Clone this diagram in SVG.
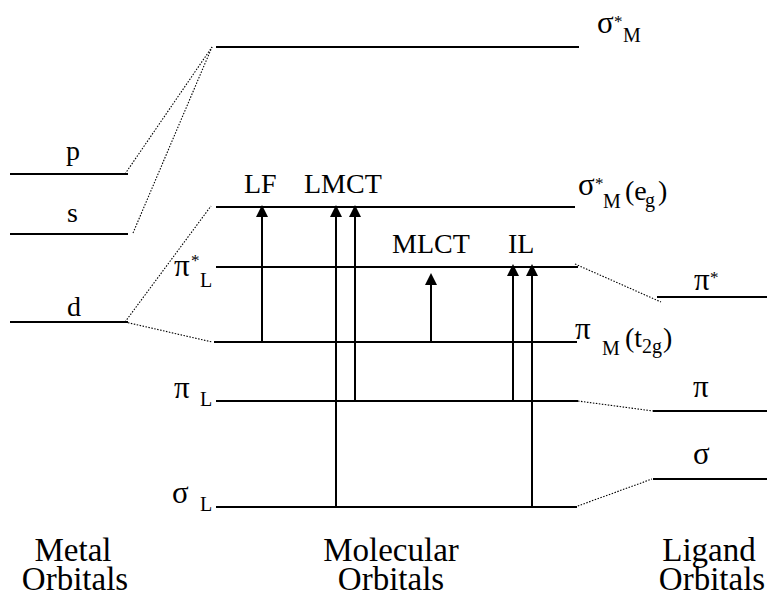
<svg xmlns="http://www.w3.org/2000/svg" width="767" height="596" viewBox="0 0 767 596">
<rect width="767" height="596" fill="#fff"/>

<g stroke="#000" stroke-width="2" fill="none">
<g id="metal-p"><line x1="10" y1="174" x2="128" y2="174"/></g>
<g id="metal-s"><line x1="10" y1="234" x2="128" y2="234"/></g>
<g id="metal-d"><line x1="10" y1="322" x2="128" y2="322"/></g>
<g id="mo-sigma-star-m"><line x1="216" y1="47" x2="579" y2="47"/></g>
<g id="mo-sigma-star-m-eg"><line x1="216" y1="207" x2="575" y2="207"/></g>
<g id="mo-pi-star-l"><line x1="216" y1="267" x2="578" y2="267"/></g>
<g id="mo-pi-m-t2g"><line x1="214" y1="342" x2="577" y2="342"/></g>
<g id="mo-pi-l"><line x1="216" y1="401" x2="578" y2="401"/></g>
<g id="mo-sigma-l"><line x1="216" y1="507" x2="577" y2="507"/></g>
<g id="lig-pi-star"><line x1="657" y1="297" x2="767" y2="297"/></g>
<g id="lig-pi"><line x1="653" y1="411" x2="767" y2="411"/></g>
<g id="lig-sigma"><line x1="653" y1="479" x2="767" y2="479"/></g>
</g>

<text style="font-family:'Liberation Serif'" font-family="Liberation Serif" font-size="28" x="66" y="160">p</text>
<text style="font-family:'Liberation Serif'" font-family="Liberation Serif" font-size="28" x="67" y="222">s</text>
<text style="font-family:'Liberation Serif'" font-family="Liberation Serif" font-size="28" x="67" y="316">d</text>
<text style="font-family:'Liberation Serif'" font-family="Liberation Serif" font-size="28"><tspan font-size="31" x="597" y="33">σ</tspan><tspan font-size="17" x="614" y="27">*</tspan><tspan font-size="20" x="623" y="42">M</tspan></text>
<text style="font-family:'Liberation Serif'" font-family="Liberation Serif" font-size="28"><tspan font-size="31" x="578" y="195">σ</tspan><tspan font-size="17" x="595" y="189">*</tspan><tspan font-size="20" x="603" y="208">M</tspan><tspan x="625" y="200">(e</tspan><tspan font-size="20" x="645" y="207">g</tspan><tspan x="658" y="200">)</tspan></text>
<text style="font-family:'Liberation Serif'" font-family="Liberation Serif" font-size="28"><tspan font-size="31" x="174" y="276">π</tspan><tspan font-size="17" x="191" y="266">*</tspan><tspan font-size="20" x="200" y="287">L</tspan></text>
<text style="font-family:'Liberation Serif'" font-family="Liberation Serif" font-size="28"><tspan font-size="31" x="575" y="339">π</tspan><tspan font-size="20" x="602" y="355">M</tspan><tspan x="625" y="347">(t</tspan><tspan font-size="20" x="642" y="353">2g</tspan><tspan x="663" y="347">)</tspan></text>
<text style="font-family:'Liberation Serif'" font-family="Liberation Serif" font-size="28"><tspan font-size="31" x="174" y="398">π</tspan><tspan font-size="20" x="200" y="406">L</tspan></text>
<text style="font-family:'Liberation Serif'" font-family="Liberation Serif" font-size="28"><tspan font-size="31" x="172" y="503">σ</tspan><tspan font-size="20" x="200" y="511">L</tspan></text>
<text style="font-family:'Liberation Serif'" font-family="Liberation Serif" font-size="28"><tspan font-size="31" x="694" y="290">π</tspan><tspan font-size="17" x="710" y="283">*</tspan></text>
<text style="font-family:'Liberation Serif'" font-family="Liberation Serif" font-size="31" x="693" y="397">π</text>
<text style="font-family:'Liberation Serif'" font-family="Liberation Serif" font-size="31" x="693" y="464">σ</text>

<g id="connectors">
<g fill="none" stroke="#000" stroke-width="1.1" stroke-dasharray="1.5 1.5">
<line x1="125" y1="174" x2="212" y2="47"/>
<line x1="133" y1="233" x2="212" y2="47"/>
<line x1="125" y1="322" x2="211" y2="206"/>
<line x1="125" y1="322" x2="212" y2="342"/>
<line x1="575" y1="264" x2="661" y2="302"/>
<line x1="578" y1="401" x2="653" y2="411"/>
<line x1="575" y1="507" x2="652" y2="479"/>
</g>
<g fill="none" stroke="#000" stroke-width="2">
<line x1="262" y1="342" x2="262" y2="214"/>
<line x1="336" y1="507" x2="336" y2="214"/>
<line x1="355" y1="401" x2="355" y2="214"/>
<line x1="431" y1="342" x2="431" y2="282"/>
<line x1="513" y1="401" x2="513" y2="273"/>
<line x1="532" y1="507" x2="532" y2="273"/>
</g>
<g fill="#000">
<polygon points="262,205 268,217 256,217"/>
<polygon points="336,205 342,217 330,217"/>
<polygon points="355,205 361,217 349,217"/>
<polygon points="431,273 437,285 425,285"/>
<polygon points="513,264 519,276 507,276"/>
<polygon points="532,264 538,276 526,276"/>
</g>
</g>

<text style="font-family:'Liberation Serif'" font-family="Liberation Serif" font-size="28" x="244" y="193">LF</text>
<text style="font-family:'Liberation Serif'" font-family="Liberation Serif" font-size="28" x="304" y="193">LMCT</text>
<text style="font-family:'Liberation Serif'" font-family="Liberation Serif" font-size="28" x="392" y="253">MLCT</text>
<text style="font-family:'Liberation Serif'" font-family="Liberation Serif" font-size="28" x="508" y="253">IL</text>

<text style="font-family:'Liberation Serif'" font-family="Liberation Serif" font-size="33" text-anchor="middle" x="73" y="561">Metal</text>
<text style="font-family:'Liberation Serif'" font-family="Liberation Serif" font-size="33" text-anchor="middle" x="75" y="590">Orbitals</text>
<text style="font-family:'Liberation Serif'" font-family="Liberation Serif" font-size="33" text-anchor="middle" x="391" y="561">Molecular</text>
<text style="font-family:'Liberation Serif'" font-family="Liberation Serif" font-size="33" text-anchor="middle" x="391" y="590">Orbitals</text>
<text style="font-family:'Liberation Serif'" font-family="Liberation Serif" font-size="33" text-anchor="middle" x="709" y="561">Ligand</text>
<text style="font-family:'Liberation Serif'" font-family="Liberation Serif" font-size="33" text-anchor="middle" x="712" y="590">Orbitals</text>
</svg>
